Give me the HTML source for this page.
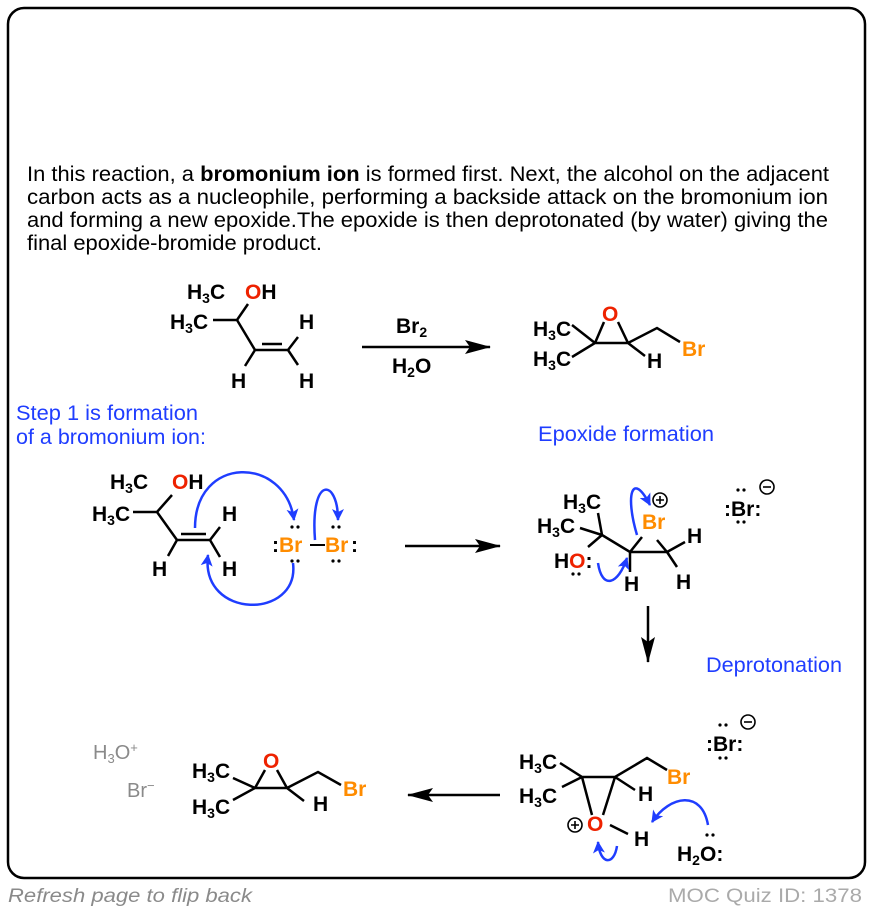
<!DOCTYPE html>
<html><head><meta charset="utf-8"><style>
body{margin:0;background:#fff;width:872px;height:912px;overflow:hidden;font-family:"Liberation Sans",sans-serif}
svg{position:absolute;left:0;top:0}
.c{font-weight:bold;font-size:21px;fill:#000}
.s{font-size:14px}
.r{fill:#ee2200}.o{fill:#ff8c00}.b{fill:#1f3dff}
.p{font-size:21px;fill:#000}
</style></head><body>
<svg width="872" height="912" viewBox="0 0 872 912" font-family="Liberation Sans, sans-serif">
<defs><marker id="ah" markerWidth="12" markerHeight="12" refX="11" refY="6" orient="auto" markerUnits="userSpaceOnUse"><path d="M0,0 L12,6 L0,12 L3,6 z" fill="#1f3dff"/></marker>
<marker id="bk" markerWidth="26" markerHeight="14" refX="25" refY="7" orient="auto" markerUnits="userSpaceOnUse"><path d="M0,0 L26,7 L0,14 L5,7 z" fill="#000"/></marker></defs>
<rect x="8" y="8" width="857" height="870" rx="16" fill="none" stroke="#000" stroke-width="2.5"/>
<g class="p">
<text x="27" y="181" textLength="802" lengthAdjust="spacingAndGlyphs">In this reaction, a <tspan font-weight="bold">bromonium ion</tspan> is formed first. Next, the alcohol on the adjacent</text>
<text x="27" y="204" textLength="801" lengthAdjust="spacingAndGlyphs">carbon acts as a nucleophile, performing a backside attack on the bromonium ion</text>
<text x="27" y="227" textLength="801" lengthAdjust="spacingAndGlyphs">and forming a new epoxide.The epoxide is then deprotonated (by water) giving the</text>
<text x="27" y="250" textLength="295" lengthAdjust="spacingAndGlyphs">final epoxide-bromide product.</text>
</g>
<g stroke="#000" stroke-width="2.5" fill="none">
<!-- top-left molecule -->
<path d="M213,320 L237,320 L248,304 M237,320 L255,350 L288,350 L298,337 M288,350 L298,365 M255,350 L245,366 M262,344 L282,344"/>
<!-- product top -->
<path d="M604,322 L595,343 L628,343 L618,322 M572,325 L595,343 L572,357 M628,343 L657,328 L680,342 M628,343 L645,356"/>
<!-- 2nd left molecule -->
<path d="M133,512 L157,512 L172,495 M157,512 L177,540 L210,540 L220,527 M210,540 L220,557 M177,540 L168,556 M181,534 L206,534"/>
<path d="M310,545 L325,545" stroke-width="2"/>
<!-- middle right -->
<path d="M598,513 L602,535 L580,528 M602,535 L588,547 M602,535 L630,552 L667,552 L657,540 M630,552 L642,537 M667,552 L685,542 M667,552 L677,567 M630,552 L630,572"/>
<!-- bottom right -->
<path d="M560,763 L582,777 L562,787 M582,777 L615,777 L647,758 L667,770 M615,777 L635,790 M582,777 L592,815 M615,777 L603,815 M610,825 L628,834"/>
<!-- bottom left product -->
<path d="M265,770 L255,788 L287,788 L277,770 M233,778 L255,788 L233,800 M287,788 L318,772 L341,785 M287,788 L304,801"/>
</g>
<line x1="362" y1="347" x2="490" y2="347" stroke="#000" stroke-width="2.5" marker-end="url(#bk)"/>
<line x1="405" y1="546" x2="500" y2="546" stroke="#000" stroke-width="2.5" marker-end="url(#bk)"/>
<line x1="648" y1="606" x2="648" y2="662" stroke="#000" stroke-width="2.5" marker-end="url(#bk)"/>
<line x1="500" y1="795" x2="408" y2="795" stroke="#000" stroke-width="2.5" marker-end="url(#bk)"/>
<g class="c">
<text x="187" y="299">H<tspan class="s" dy="4">3</tspan><tspan dy="-4">C</tspan></text>
<text x="245" y="299"><tspan class="r">O</tspan>H</text>
<text x="170" y="329">H<tspan class="s" dy="4">3</tspan><tspan dy="-4">C</tspan></text>
<text x="299" y="329">H</text><text x="231" y="388">H</text><text x="299" y="388">H</text>
<text x="396" y="333">Br<tspan class="s" dy="4">2</tspan></text>
<text x="392" y="373">H<tspan class="s" dy="4">2</tspan><tspan dy="-4">O</tspan></text>
<text x="533" y="336">H<tspan class="s" dy="4">3</tspan><tspan dy="-4">C</tspan></text>
<text x="533" y="366">H<tspan class="s" dy="4">3</tspan><tspan dy="-4">C</tspan></text>
<text x="602" y="321" class="r">O</text><text x="682" y="356" class="o">Br</text><text x="647" y="368">H</text>
<text x="110" y="489">H<tspan class="s" dy="4">3</tspan><tspan dy="-4">C</tspan></text>
<text x="172" y="489"><tspan class="r">O</tspan>H</text>
<text x="92" y="521">H<tspan class="s" dy="4">3</tspan><tspan dy="-4">C</tspan></text>
<text x="222" y="521">H</text><text x="152" y="576">H</text><text x="222" y="576">H</text>
<text x="272" y="552">:<tspan class="o">Br</tspan></text>
<text x="325" y="552" class="o">Br</text><text x="351" y="552">:</text>
<text x="563" y="509">H<tspan class="s" dy="4">3</tspan><tspan dy="-4">C</tspan></text>
<text x="537" y="533">H<tspan class="s" dy="4">3</tspan><tspan dy="-4">C</tspan></text>
<text x="554" y="568">H<tspan class="r">O</tspan>:</text>
<text x="642" y="529" class="o">Br</text>
<text x="687" y="543">H</text><text x="676" y="589">H</text><text x="624" y="591">H</text>
<text x="724" y="516">:Br:</text>
<text x="519" y="769">H<tspan class="s" dy="4">3</tspan><tspan dy="-4">C</tspan></text>
<text x="519" y="803">H<tspan class="s" dy="4">3</tspan><tspan dy="-4">C</tspan></text>
<text x="667" y="784" class="o">Br</text><text x="638" y="801">H</text>
<text x="587" y="831" class="r">O</text><text x="634" y="846">H</text>
<text x="677" y="861">H<tspan class="s" dy="4">2</tspan><tspan dy="-4">O</tspan>:</text>
<text x="706" y="751">:Br:</text>
<text x="192" y="778">H<tspan class="s" dy="4">3</tspan><tspan dy="-4">C</tspan></text>
<text x="192" y="814">H<tspan class="s" dy="4">3</tspan><tspan dy="-4">C</tspan></text>
<text x="263" y="768" class="r">O</text><text x="343" y="796" class="o">Br</text><text x="313" y="811">H</text>
</g>
<g fill="#000">
<circle cx="292" cy="527" r="1.6"/><circle cx="298" cy="527" r="1.6"/><circle cx="292" cy="561" r="1.6"/><circle cx="298" cy="561" r="1.6"/>
<circle cx="333" cy="527" r="1.6"/><circle cx="339" cy="527" r="1.6"/><circle cx="333" cy="561" r="1.6"/><circle cx="339" cy="561" r="1.6"/>
<circle cx="738" cy="490" r="1.6"/><circle cx="744" cy="490" r="1.6"/><circle cx="738" cy="522" r="1.6"/><circle cx="744" cy="522" r="1.6"/>
<circle cx="573" cy="574" r="1.6"/><circle cx="579" cy="574" r="1.6"/>
<circle cx="720" cy="725" r="1.6"/><circle cx="726" cy="725" r="1.6"/><circle cx="720" cy="758" r="1.6"/><circle cx="726" cy="758" r="1.6"/>
<circle cx="707" cy="835" r="1.6"/><circle cx="713" cy="835" r="1.6"/>
</g>
<g fill="none" stroke="#000" stroke-width="1.6">
<circle cx="660" cy="500" r="7"/><path d="M656,500h8M660,496v8"/>
<circle cx="767" cy="487" r="7"/><path d="M763,487h8"/>
<circle cx="748" cy="722" r="7"/><path d="M744,722h8"/>
<circle cx="575" cy="825" r="7"/><path d="M571,825h8M575,821v8"/>
</g>
<g fill="none" stroke="#1f3dff" stroke-width="2.5">
<path d="M195,528 C195,455 285,455 294,520" marker-end="url(#ah)"/>
<path d="M315,540 C310,475 338,478 338,520" marker-end="url(#ah)"/>
<path d="M293,563 C300,620 200,620 208,555" marker-end="url(#ah)"/>
<path d="M637,535 C625,495 632,470 650,505" marker-end="url(#ah)"/>
<path d="M598,563 C602,590 618,585 627,558" marker-end="url(#ah)"/>
<path d="M708,825 C702,790 670,795 652,822" marker-end="url(#ah)"/>
<path d="M617,846 C614,866 600,865 598,842" marker-end="url(#ah)"/>
</g>
<g font-size="21" class="b">
<text x="16" y="420" textLength="182" lengthAdjust="spacingAndGlyphs">Step 1 is formation</text>
<text x="16" y="444" textLength="190" lengthAdjust="spacingAndGlyphs">of a bromonium ion:</text>
<text x="538" y="441" textLength="176" lengthAdjust="spacingAndGlyphs">Epoxide formation</text>
<text x="706" y="672" textLength="136" lengthAdjust="spacingAndGlyphs">Deprotonation</text>
</g>
<g font-size="20" fill="#8a8a8a">
<text x="93" y="759">H<tspan font-size="13" dy="4">3</tspan><tspan dy="-4">O</tspan><tspan font-size="13" dy="-7">+</tspan></text>
<text x="127" y="797">Br<tspan font-size="13" dy="-7">−</tspan></text>
<text x="8" y="902" font-style="italic" font-size="19" textLength="244" lengthAdjust="spacingAndGlyphs">Refresh page to flip back</text>
<text x="668" y="902" font-size="19" textLength="194" lengthAdjust="spacingAndGlyphs" fill="#aaa">MOC Quiz ID: 1378</text>
</g>
</svg>
</body></html>
